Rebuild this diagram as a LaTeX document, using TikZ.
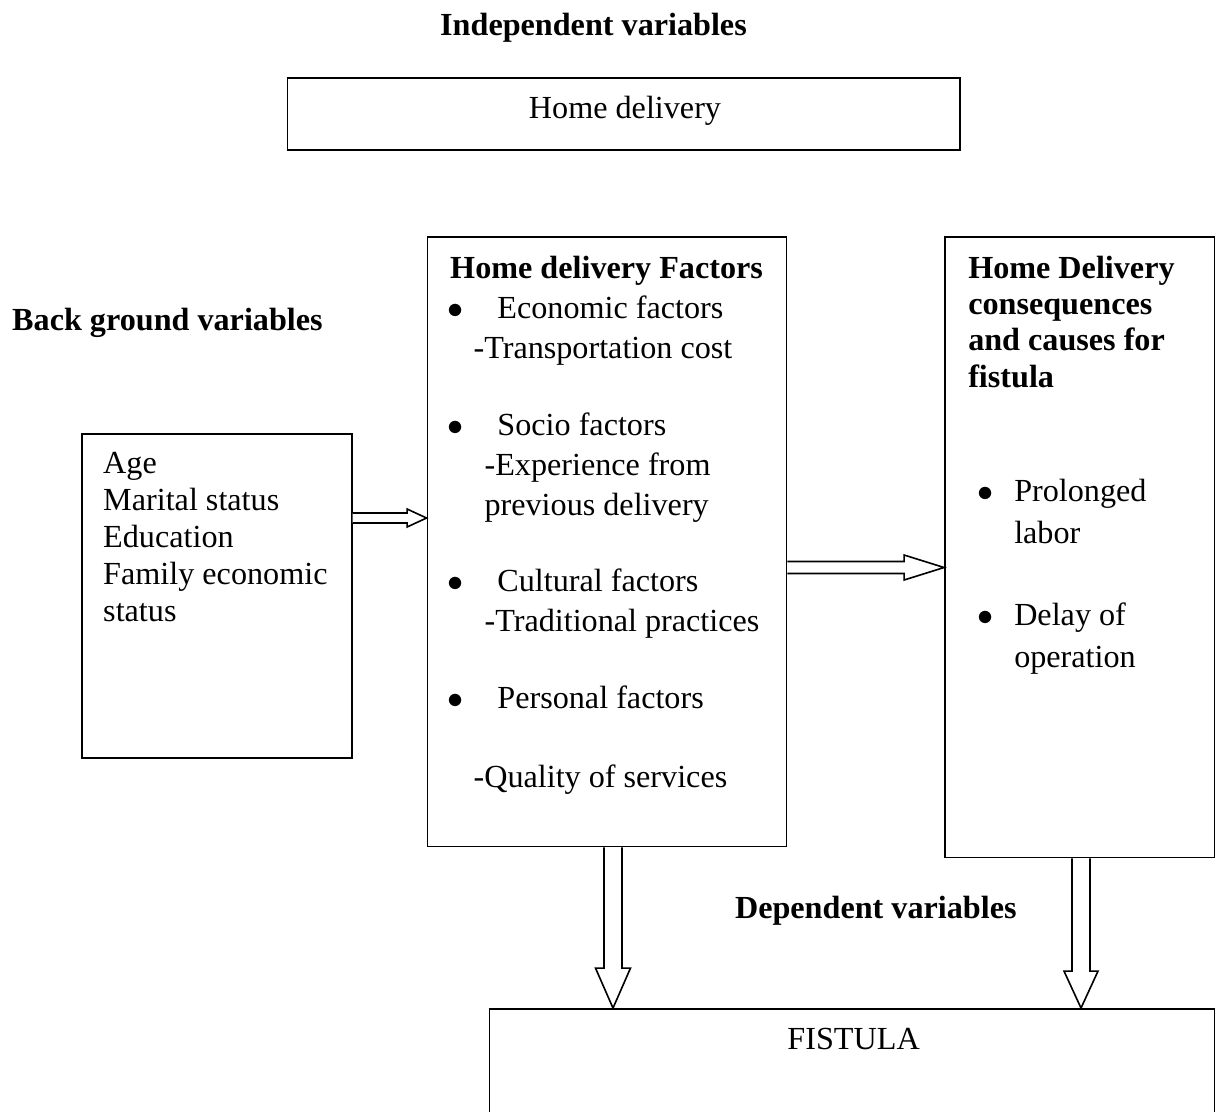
\documentclass[tikz,border=0pt]{standalone}
\usepackage{fontspec}
\setmainfont{Liberation Serif}
\usetikzlibrary{calc,fit}

% hollow block arrows: start, tip, shaft half width, head half width, head length
\newcommand{\rightblock}[5]{%
  \draw[blockarrow] ($(#1)+(0,-#3)$) -- ($(#2)+(-#5,-#3)$) -- ($(#2)+(-#5,-#4)$) -- (#2)
    -- ($(#2)+(-#5,#4)$) -- ($(#2)+(-#5,#3)$) -- ($(#1)+(0,#3)$);}
\newcommand{\downblock}[5]{%
  \draw[blockarrow] ($(#1)+(-#3,0)$) -- ($(#2)+(-#3,-#5)$) -- ($(#2)+(-#4,-#5)$) -- (#2)
    -- ($(#2)+(#4,-#5)$) -- ($(#2)+(#3,-#5)$) -- ($(#1)+(#3,0)$);}
\newcommand{\bul}[1]{\makebox[#1][l]{\hspace*{-1pt}$\bullet$}}

\begin{document}
\begin{tikzpicture}[
  x=0.373pt, y=-0.373pt,
  every node/.style={font=\fontsize{12}{13.8}\selectfont},
  box/.style={draw, line width=0.7pt, inner sep=0pt},
  head/.style={font=\fontsize{12}{13.8}\selectfont\bfseries, inner sep=0pt},
  body/.style={align=left, anchor=north west, inner sep=0pt},
  blockarrow/.style={line width=0.6pt, fill=white}
]
\useasboundingbox (0,0) rectangle (1220,1111);
\clip (0,0) rectangle (1220,1111);

\node[head, anchor=base] (indep) at (593.5,35) {Independent variables};
\node[box, fit={(287.5,77.7) (960,150)}] (home) {};
\node[anchor=base, inner sep=0pt] (hometxt) at (625,118) {Home delivery};

\node[head, anchor=base west] (backg) at (11.7,330) {Back ground variables};
\node[box, fit={(81.7,434) (351.7,758)}] (age) {};
\node[body] (agetxt) at (102.7,447) {\strut Age\\Marital status\\Education\\Family economic\\status};

\node[box, fit={(427.5,237) (786.5,846.5)}] (factors) {};
\node[body, font=\fontsize{12}{14.9}\selectfont] (factxt) at (449.7,250) {\strut\textbf{Home delivery Factors}\\
  \bul{17.6pt}Economic factors\\
  \hspace*{8.7pt}-Transportation cost\\[13.8pt]
  \bul{17.6pt}Socio factors\\
  \hspace*{12.8pt}-Experience from\\
  \hspace*{12.8pt}previous delivery\\[13.4pt]
  \bul{17.6pt}Cultural factors\\
  \hspace*{12.8pt}-Traditional practices\\[13.8pt]
  \bul{17.6pt}Personal factors\\[14.9pt]
  \hspace*{8.7pt}-Quality of services};

\node[box, fit={(945,237) (1214.5,857.5)}] (conseq) {};
\node[body, font=\fontsize{12}{13.6}\selectfont\bfseries] (contitle) at (967.7,252) {\strut Home Delivery\\consequences\\and causes for\\fistula};
\node[body, font=\fontsize{12}{15.7}\selectfont] (conlist) at (979.4,471.5) {\strut\bul{12.8pt}Prolonged\\
  \hspace*{12.8pt}labor\\[14.9pt]
  \bul{12.8pt}Delay of\\
  \hspace*{12.8pt}operation};

\node[head, anchor=base west] (depend) at (734.5,918) {Dependent variables};
\node[box, fit={(489.5,1009) (1214.5,1130)}] (fistula) {};
\node[anchor=base, inner sep=0pt] (fistxt) at (853.6,1049) {FISTULA};

\coordinate (r1) at (0,518);
\coordinate (r2) at (0,567.5);
\coordinate (d1) at (613,0);
\coordinate (d2) at (1081,0);

\rightblock{age.east |- r1}{factors.west |- r1}{5}{9}{19.5}
\rightblock{factors.east |- r2}{conseq.west |- r2}{6}{12.5}{40}
\downblock{factors.south -| d1}{fistula.north -| d1}{9}{17.5}{40}
\downblock{conseq.south -| d2}{fistula.north -| d2}{9}{17}{37}
\end{tikzpicture}
\end{document}
